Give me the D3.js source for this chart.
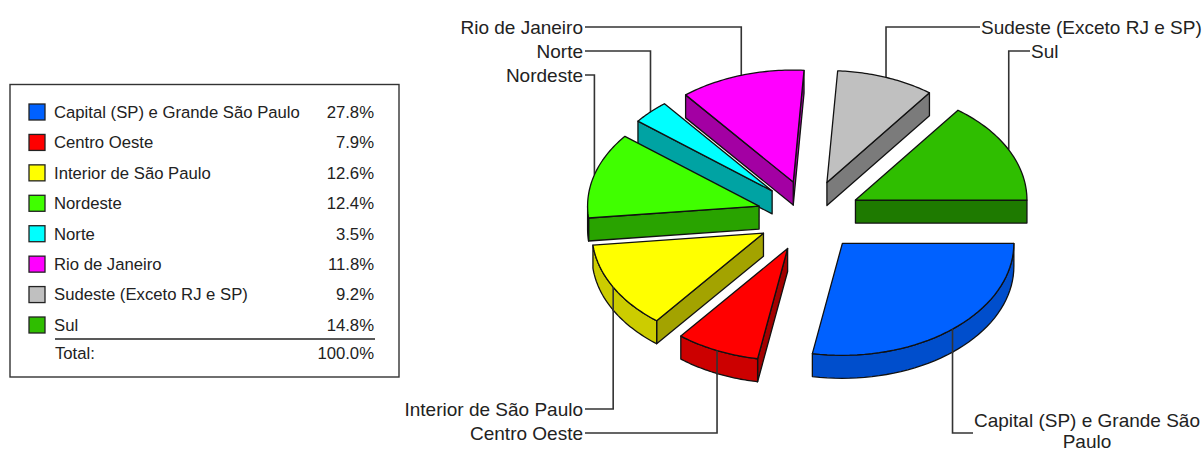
<!DOCTYPE html>
<html><head><meta charset="utf-8">
<script src="https://cdn.jsdelivr.net/npm/d3@7/dist/d3.min.js"></script>
<style>html,body{margin:0;padding:0;background:#fff}svg{display:block}text{font-family:"Liberation Sans",Arial,sans-serif;fill:#222}</style>
</head><body><svg id="c" width="1204" height="452"></svg>
<script>
const categories=["Capital (SP) e Grande São Paulo","Centro Oeste","Interior de São Paulo","Nordeste","Norte","Rio de Janeiro","Sudeste (Exceto RJ e SP)","Sul"];
const shares=[27.8,7.9,12.6,12.4,3.5,11.8,9.2,14.8];
const colors=["#0061ff","#ff0000","#ffff00","#40ff00","#00ffff","#ff00ff","#c0c0c0","#2fbe00"];
const totalLabel="Total:";
const totalValue="100.0%";

const W=1204,H=452;
const cx=809,cy=216,rx=171.5,ry=112,depth=23,explodeX=0.303,explodeY=0.318;
const sx=d3.scaleLinear().domain([-1,1]).range([cx-rx,cx+rx]);
const sy=d3.scaleLinear().domain([-1,1]).range([cy-ry,cy+ry]);
const svg=d3.select("#c");
const pie=d3.pie().sort(null).startAngle(0).endAngle(2*Math.PI);
const arcs=pie(shares).map((d,i)=>{
  const mid=(d.startAngle+d.endAngle)/2;
  return {i,a:d.startAngle,b:d.endAngle,mid,
    ox:Math.cos(mid)*explodeX,oy:Math.sin(mid)*explodeY};
});
const px=(s,t)=>sx(s.ox+Math.cos(t));
const py=(s,t)=>sy(s.oy+Math.sin(t));
const line=d3.line();
const arcPts=(s,a,b,dy=0)=>d3.range(0,41).map(k=>{const t=a+(b-a)*k/40;return [px(s,t),py(s,t)+dy];});
const apex=s=>[sx(s.ox),sy(s.oy)];
const shade=(c,f)=>{const r=d3.rgb(c);return d3.rgb(r.r*f,r.g*f,r.b*f).formatHex();};

// leaders below pie
const leaderStroke="#333";
const labelTop=[27,51,75],labelBottom=[409,433];
const labels=[
 {i:5,y:labelTop[0],side:"l"},{i:4,y:labelTop[1],side:"l"},{i:3,y:labelTop[2],side:"l"},
 {i:6,y:labelTop[0],side:"r"},{i:7,y:labelTop[1],side:"r"},
 {i:2,y:labelBottom[0],side:"l"},{i:1,y:labelBottom[1],side:"l"},{i:0,y:labelBottom[1],side:"r"}
];
const leftEnd=585,rightStart={0:973,6:980,7:1030};
const gL=svg.append("g");
labels.forEach(l=>{
  const s=arcs[l.i];const x=px(s,s.mid),y=py(s,s.mid);
  gL.append("path").attr("d",line([[x,y],[x,l.y],[l.side==="l"?leftEnd:rightStart[l.i],l.y]]))
    .attr("fill","none").attr("stroke",leaderStroke).attr("stroke-width",1.6);
});

// slices, back to front
const order=[7,6,5,4,3,0,2,1];
const gP=svg.append("g");
order.forEach(i=>{
  const s=arcs[i],c=colors[i],A=apex(s),g=gP.append("g");
  const stroke="#111";
  const wall=(pts)=>g.append("path").attr("d",line(pts)+"Z");
  const radial=shade(c,0.64),curved=shade(c,0.8);
  const edge=(t)=>{const P=[px(s,t),py(s,t)];
    wall([A,P,[P[0],P[1]+depth],[A[0],A[1]+depth]]).attr("fill",radial).attr("stroke",stroke).attr("stroke-width",1.3).attr("stroke-linejoin","round");};
  if(Math.cos(s.b)>0)edge(s.b);
  if(Math.cos(s.a)<0)edge(s.a);
  const lo=Math.max(s.a,0),hi=Math.min(s.b,Math.PI);
  if(hi>lo){
    const top=arcPts(s,lo,hi),bot=arcPts(s,lo,hi,depth).reverse();
    wall(top.concat(bot)).attr("fill",curved).attr("stroke",stroke).attr("stroke-width",1.3).attr("stroke-linejoin","round");
  }
  g.append("path").attr("d",line([A].concat(arcPts(s,s.a,s.b)))+"Z")
    .attr("fill",c).attr("stroke",stroke).attr("stroke-width",1.3).attr("stroke-linejoin","round");
  // leader stub crossing the curved wall
  if(hi>lo&&s.mid<Math.PI){
    const x=px(s,s.mid),y=py(s,s.mid);
    g.append("path").attr("d",line([[x,y],[x,y+depth+1]])).attr("stroke",leaderStroke).attr("stroke-width",1.6);
  }
});

// chart labels
const gT=svg.append("g").attr("font-size",19);
const txt=(x,y,t,anchor)=>gT.append("text").attr("x",x).attr("y",y).attr("dy","0.35em").attr("text-anchor",anchor).text(t);
txt(583,labelTop[0],categories[5],"end");
txt(583,labelTop[1],categories[4],"end");
txt(583,labelTop[2],categories[3],"end");
txt(583,labelBottom[0],categories[2],"end");
txt(583,labelBottom[1],categories[1],"end");
txt(981,labelTop[0],categories[6],"start");
txt(1031,labelTop[1],categories[7],"start");
txt(1087,420,"Capital (SP) e Grande São","middle");
txt(1087,441.5,"Paulo","middle");

// legend
const leg=svg.append("g").attr("font-size",16.7);
leg.append("rect").attr("x",10).attr("y",84.5).attr("width",389).attr("height",292.5).attr("fill","#fff").attr("stroke","#333").attr("stroke-width",1.4);
const ly=d3.scalePoint().domain(d3.range(categories.length)).range([112,325]);
categories.forEach((n,i)=>{
  const y=ly(i);
  leg.append("rect").attr("x",29).attr("y",y-8).attr("width",16).attr("height",16).attr("fill",colors[i]).attr("stroke","#222").attr("stroke-width",1.3);
  leg.append("text").attr("x",54).attr("y",y).attr("dy","0.35em").text(n);
  leg.append("text").attr("x",374).attr("y",y).attr("dy","0.35em").attr("text-anchor","end").text(shares[i].toFixed(1)+"%");
});
leg.append("line").attr("x1",55).attr("x2",375).attr("y1",339).attr("y2",339).attr("stroke","#222").attr("stroke-width",1.4);
leg.append("text").attr("x",55).attr("y",353).attr("dy","0.35em").text(totalLabel);
leg.append("text").attr("x",374).attr("y",353).attr("dy","0.35em").attr("text-anchor","end").text(totalValue);
</script></body></html>
